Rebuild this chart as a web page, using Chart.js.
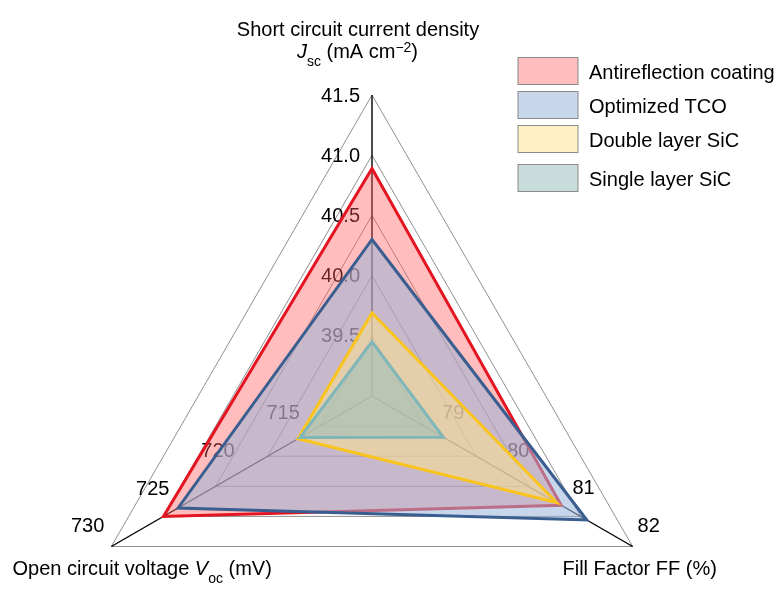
<!DOCTYPE html>
<html><head><meta charset="utf-8">
<script src="https://cdn.jsdelivr.net/npm/chart.js@4/dist/chart.umd.min.js"></script>
<style>html,body{margin:0;padding:0;background:#fff;overflow:hidden}canvas{display:block}</style>
</head><body>
<canvas id="c" width="780" height="589"></canvas>
<script>
// ---- data ----
const axisLabels = ['Jsc', 'FF', 'Voc'];               // top, bottom-right, bottom-left
const seriesNames = ['Antireflection coating', 'Optimized TCO', 'Double layer SiC', 'Single layer SiC'];
const jsc = [40.89, 40.30, 39.69, 39.45];              // mA cm^-2
const ff  = [80.63, 81.12, 80.54, 78.37];              // %
const voc = [725.0, 723.6, 712.1, 711.9];              // mV
const jscTicks = ['41.5', '41.0', '40.5', '40.0', '39.5'];
const ffTicks  = ['82', '81', '80', '79'];
const vocTicks = ['730', '725', '720', '715'];
const axisMin  = [39, 77, 705];
const axisStep = [0.5, 1, 5];

// ---- styles ----
const FONT = '"Liberation Sans", Arial, Helvetica, sans-serif';
const fills = ['rgba(255,90,90,0.4)', 'rgba(155,182,218,0.56)', 'rgba(255,228,140,0.52)', 'rgba(150,188,188,0.52)'];
const lines = ['rgb(228,20,32)', 'rgb(58,94,143)', 'rgb(250,196,30)', 'rgb(128,182,184)'];
const CX = 372, CY = 396, RADIUS = 301;

const norm = (axis, v) => (v - axisMin[axis]) / axisStep[axis];
const seriesValues = [jsc, ff, voc];

const datasets = seriesNames.map((name, s) => ({
  label: name,
  data: seriesValues.map((arr, a) => norm(a, arr[s])),
  backgroundColor: fills[s],
  borderColor: lines[s],
  borderWidth: 3,
  borderJoinStyle: 'miter',
  pointRadius: 0,
  pointHoverRadius: 0,
  fill: true,
  tension: 0,
  order: seriesNames.length - s
}));

function rich(ctx, parts, x, y, align) {
  let w = 0;
  parts.forEach(p => {
    ctx.font = (p.italic ? 'italic ' : '') + (p.size || 20) + 'px ' + FONT;
    p.w = ctx.measureText(p.t).width; w += p.w;
  });
  let cx = align === 'center' ? x - w / 2 : x;
  ctx.textAlign = 'left';
  ctx.textBaseline = 'alphabetic';
  parts.forEach(p => {
    ctx.font = (p.italic ? 'italic ' : '') + (p.size || 20) + 'px ' + FONT;
    ctx.fillText(p.t, cx, y + (p.dy || 0));
    cx += p.w;
  });
}

const textPlugin = {
  id: 'texts',
  beforeDatasetsDraw(chart) {
    const ctx = chart.ctx, sc = chart.scales.r;
    ctx.save();
    ctx.fillStyle = '#000';
    ctx.font = '20px ' + FONT;
    // top axis (Jsc)
    ctx.textAlign = 'right'; ctx.textBaseline = 'middle';
    jscTicks.forEach(t => {
      const r = sc.getDistanceFromCenterForValue(norm(0, parseFloat(t)));
      const p = sc.getPointPosition(0, r);
      ctx.fillText(t, p.x - 12, p.y + 1);
    });
    ctx.textAlign = 'center';
    // bottom-right (FF)
    ffTicks.forEach(t => {
      const r = sc.getDistanceFromCenterForValue(norm(1, parseFloat(t)));
      const p = sc.getPointPosition(1, 1.25 * r - 71.5);
      const a = p.angle;
      const dx = Math.cos(a), dy = Math.sin(a);
      ctx.fillText(t, p.x + dy * 25.5, p.y - dx * 25.5);
    });
    // bottom-left (Voc)
    vocTicks.forEach(t => {
      const r = sc.getDistanceFromCenterForValue(norm(2, parseFloat(t)));
      const p = sc.getPointPosition(2, 1.25 * r - 64.6);
      const a = p.angle;
      const dx = Math.cos(a), dy = Math.sin(a);
      ctx.fillText(t, p.x - dy * 29, p.y + dx * 29);
    });
    ctx.restore();
  },
  afterDraw(chart) {
    const ctx = chart.ctx;
    ctx.save();
    ctx.fillStyle = '#000';
    // axis titles
    rich(ctx, [{t: 'Short circuit current density'}], 358, 36, 'center');
    rich(ctx, [{t: 'J', italic: true}, {t: 'sc', size: 14, dy: 7.5}, {t: ' (mA cm'}, {t: '\u22122', size: 14, dy: -6}, {t: ')'}], 357.5, 58, 'center');
    rich(ctx, [{t: 'Open circuit voltage '}, {t: 'V', italic: true}, {t: 'oc', size: 14, dy: 7.5}, {t: ' (mV)'}], 12.5, 575, 'left');
    rich(ctx, [{t: 'Fill Factor FF (%)'}], 562.5, 575, 'left');
    // legend
    const boxTops = [57.5, 91.5, 125.5, 164.5];
    seriesNames.forEach((name, s) => {
      const y0 = boxTops[s];
      ctx.fillStyle = '#fff';
      ctx.fillRect(518, y0, 60, 27);
      ctx.fillStyle = fills[s];
      ctx.fillRect(518, y0, 60, 27);
      ctx.strokeStyle = '#8a8a8a'; ctx.lineWidth = 1;
      ctx.strokeRect(518, y0, 60, 27);
      ctx.fillStyle = '#000';
      rich(ctx, [{t: name}], 589, y0 + 21, 'left');
    });
    ctx.restore();
  }
};

new Chart(document.getElementById('c'), {
  type: 'radar',
  data: { labels: axisLabels, datasets },
  options: {
    responsive: false,
    animation: false,
    devicePixelRatio: 1,
    layout: { padding: 0 },
    plugins: { legend: { display: false }, tooltip: { enabled: false } },
    elements: { line: { tension: 0 } },
    scales: {
      r: {
        min: 0, max: 5,
        ticks: { display: false, stepSize: 1 },
        grid: { color: '#8f8f8f', lineWidth: 1 },
        angleLines: { color: '#000', lineWidth: 1.4 },
        pointLabels: { display: false },
        afterFit(scale) { scale.xCenter = CX; scale.yCenter = CY; scale.drawingArea = RADIUS; }
      }
    }
  },
  plugins: [textPlugin]
});
</script>
</body></html>
